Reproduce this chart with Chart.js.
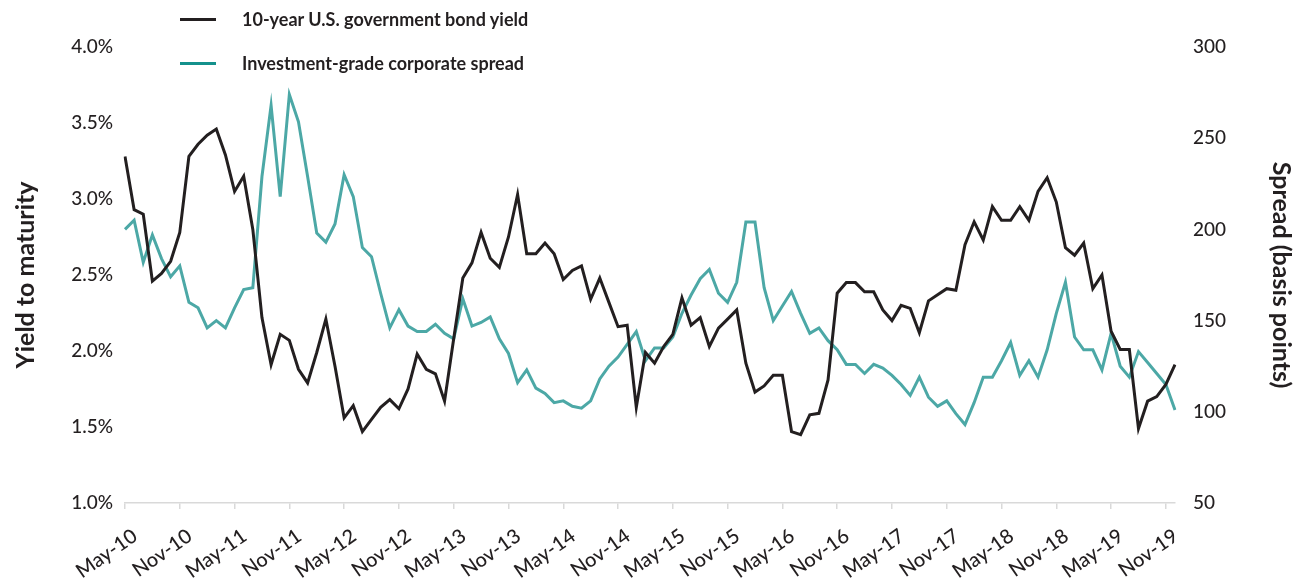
<!DOCTYPE html>
<html>
<head>
<meta charset="utf-8">
<script src="https://cdn.jsdelivr.net/npm/chart.js@4.4.1/dist/chart.umd.min.js"></script>
<style>
  body { margin: 0; background: #fff; }
  #wrap { position: relative; width: 1296px; height: 578px; }
  .leg { position: absolute; left: 180px; font-family: Lato, sans-serif; font-weight: bold; font-size: 18px; color: #231f20; display: flex; align-items: center; }
  .leg span.swatch { display: inline-block; width: 36px; height: 3px; margin-right: 26px; }
</style>
</head>
<body>
<div id="wrap">
  <canvas id="chart"></canvas>
  <div class="leg" style="top: 8px;"><span class="swatch" style="background:#231f20"></span>10-year U.S. government bond yield</div>
  <div class="leg" style="top: 52px;"><span class="swatch" style="background:#14918c"></span>Investment-grade corporate spread</div>
</div>
<script>
// monthly, May-10 .. Dec-19
var months = ["Jan", "Feb", "Mar", "Apr", "May", "Jun", "Jul", "Aug", "Sep", "Oct", "Nov", "Dec"];
var labels = [];
for (var y = 10; y <= 19; y++) {
  for (var m = 0; m < 12; m++) {
    if (y === 10 && m < 4) continue;
    labels.push(months[m] + "-" + y);
  }
}

// 10-year yield, %
var yieldData = [
  3.28, 2.93, 2.90, 2.46, 2.51, 2.59, 2.78, 3.28, 3.36, 3.42, 3.46, 3.29,
  3.05, 3.15, 2.80, 2.22, 1.91, 2.11, 2.07, 1.88, 1.79, 1.99, 2.21, 1.90,
  1.56, 1.64, 1.47, 1.55, 1.63, 1.68, 1.62, 1.75, 1.98, 1.88, 1.85, 1.67,
  2.08, 2.48, 2.58, 2.78, 2.61, 2.55, 2.75, 3.03, 2.64, 2.64, 2.71, 2.64,
  2.47, 2.53, 2.56, 2.34, 2.48, 2.32, 2.16, 2.17, 1.63, 1.99, 1.92, 2.03,
  2.11, 2.35, 2.17, 2.22, 2.03, 2.15, 2.21, 2.27, 1.92, 1.73, 1.77, 1.84,
  1.84, 1.47, 1.45, 1.58, 1.59, 1.81, 2.38, 2.45, 2.45, 2.39, 2.39, 2.27,
  2.20, 2.30, 2.28, 2.12, 2.33, 2.37, 2.41, 2.40, 2.70, 2.85, 2.73, 2.95,
  2.86, 2.86, 2.95, 2.86, 3.05, 3.14, 2.98, 2.68, 2.63, 2.71, 2.41, 2.50,
  2.13, 2.01, 2.01, 1.49, 1.67, 1.70, 1.78, 1.91
];

// IG corporate spread, basis points
var spreadData = [
  200, 205, 182, 197, 184, 174, 180, 160, 157, 146, 150, 146,
  157, 167, 168, 229, 268, 218, 274, 259, 229, 198, 193, 203,
  230, 218, 190, 185, 165, 146, 156, 147, 144, 144, 148, 143,
  140, 162, 147, 149, 152, 140, 132, 116, 123, 113, 110, 105,
  106, 103, 102, 106, 118, 125, 130, 137, 144, 128, 135, 135,
  141, 154, 164, 173, 178, 165, 160, 171, 204, 204, 168, 150,
  158, 166, 154, 143, 146, 139, 134, 126, 126, 121, 126, 124,
  120, 115, 109, 119, 108, 103, 106, 99, 93, 105, 119, 119,
  128, 138, 120, 128, 119, 134, 154, 171, 141, 134, 134, 123,
  143, 125, 119, 133, 127, 121, 115, 101
];

var leftTicks = [1.0, 1.5, 2.0, 2.5, 3.0, 3.5, 4.0];
var rightTicks = [50, 100, 150, 200, 250, 300];

var ink = "#231f20";
var font = "Lato, 'Open Sans', sans-serif";

new Chart(document.getElementById("chart"), {
  type: "line",
  data: {
    labels: labels,
    datasets: [{
      label: "10-year U.S. government bond yield",
      data: yieldData,
      yAxisID: "y",
      borderColor: ink,
      borderWidth: 3,
      pointRadius: 0,
      tension: 0
    }, {
      label: "Investment-grade corporate spread",
      data: spreadData,
      yAxisID: "y2",
      borderColor: "#4ca8a6",
      borderWidth: 3,
      pointRadius: 0,
      tension: 0
    }]
  },
  options: {
    responsive: true,
    maintainAspectRatio: false,
    animation: false,
    layout: { padding: { top: 47, left: 0, right: 0, bottom: 0 } },
    plugins: { legend: { display: false }, tooltip: { enabled: false } },
    scales: {
      x: {
        grid: {
          drawOnChartArea: false,
          drawTicks: true,
          tickLength: 6,
          lineWidth: 1.5,
          color: function (c) { return c.index % 6 === 0 ? "#d9d9d9" : "rgba(0,0,0,0)"; }
        },
        border: { display: true, color: "#d9d9d9", width: 1.5 },
        ticks: {
          autoSkip: false,
          minRotation: 35,
          maxRotation: 35,
          padding: 15,
          labelOffset: 10,
          color: ink,
          font: { family: font, size: 20, weight: "500" },
          callback: function (v, i) { return i % 6 === 0 ? labels[i] : ""; }
        },
        afterFit: function (s) { s.height = 75; }
      },
      y: {
        position: "left",
        min: 1, max: 4,
        afterBuildTicks: function (s) { s.ticks = leftTicks.map(function (v) { return { value: v }; }); },
        grid: { display: false, drawTicks: false },
        border: { display: false },
        ticks: {
          padding: 12,
          color: ink,
          font: { family: font, size: 19, weight: "500" },
          callback: function (v) { return v.toFixed(1) + "%"; }
        },
        title: {
          display: true,
          text: "Yield to maturity",
          color: ink,
          padding: { top: 11, bottom: 0 },
          font: { family: font, size: 25, weight: "bold" }
        },
        afterFit: function (s) { s.width = 125; }
      },
      y2: {
        position: "right",
        min: 50, max: 300,
        afterBuildTicks: function (s) { s.ticks = rightTicks.map(function (v) { return { value: v }; }); },
        grid: { display: false, drawTicks: false },
        border: { display: false },
        ticks: {
          padding: 18,
          color: ink,
          font: { family: font, size: 19, weight: "500" }
        },
        title: {
          display: true,
          text: "Spread (basis points)",
          color: ink,
          padding: { top: 0, bottom: 10 },
          font: { family: font, size: 25, weight: "bold" }
        },
        afterFit: function (s) { s.width = 121; }
      }
    }
  }
});
</script>
</body>
</html>
